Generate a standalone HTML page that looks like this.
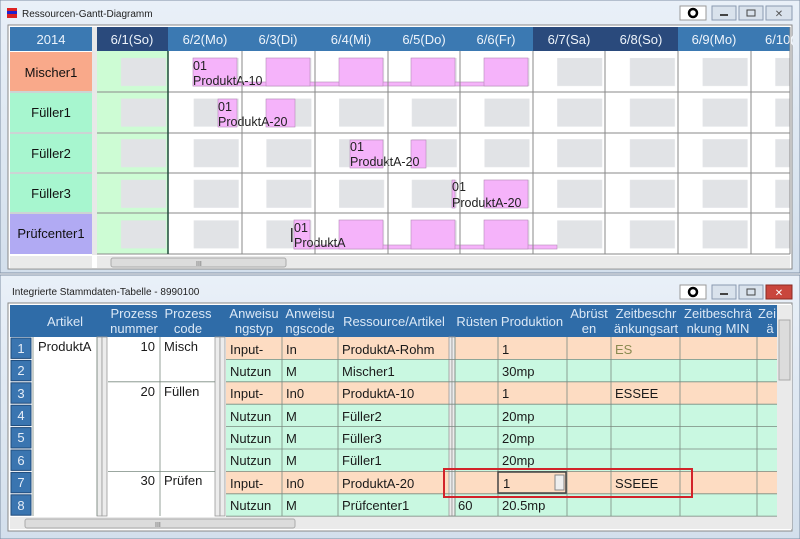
<!DOCTYPE html>
<html><head><meta charset="utf-8"><style>
html,body{margin:0;padding:0;background:#fff;}
svg{display:block;font-family:"Liberation Sans",sans-serif;}
</style></head><body>
<svg width="800" height="539" viewBox="0 0 800 539" xmlns="http://www.w3.org/2000/svg">
<defs>
<linearGradient id="tb" x1="0" y1="0" x2="0" y2="1"><stop offset="0" stop-color="#e9f0f8"/><stop offset="1" stop-color="#d3dfec"/></linearGradient>
<pattern id="gb" x="97" y="51" width="72.7" height="40.6" patternUnits="userSpaceOnUse"><rect x="24" y="7" width="45" height="28" fill="#e1e3e6"/></pattern>
</defs>
<!-- top window -->
<rect x="0" y="0" width="800" height="273" fill="url(#tb)" stroke="#7d8ea3"/>
<rect x="7" y="8" width="10" height="10" fill="#d22"/><rect x="7" y="11" width="10" height="3" fill="#22c"/>
<text x="22" y="17" font-size="10" fill="#222">Ressourcen-Gantt-Diagramm</text>
<rect x="680" y="6" width="26" height="14" fill="#fff" stroke="#999"/><circle cx="693" cy="13" r="4" fill="none" stroke="#000" stroke-width="2.5"/>
<rect x="712" y="6" width="24" height="14" fill="#d9e2ec" stroke="#8a9ab0"/><rect x="720" y="14" width="8" height="2" fill="#444"/>
<rect x="739" y="6" width="24" height="14" fill="#d9e2ec" stroke="#8a9ab0"/><rect x="747" y="10" width="8" height="6" fill="none" stroke="#444"/>
<rect x="766" y="6" width="26" height="14" fill="#d9e2ec" stroke="#8a9ab0"/><text x="779" y="17" font-size="10" text-anchor="middle" fill="#555">✕</text>
<rect x="8" y="25" width="784" height="244" fill="#fff" stroke="#888"/>
<!-- left labels -->
<rect x="10" y="27" width="82" height="24" fill="#3b79b2"/><text x="51" y="44" font-size="13" fill="#eaf2fb" text-anchor="middle">2014</text>
<rect x="10" y="52" width="82" height="39" fill="#f9a98a"/><text x="51" y="77" font-size="13" text-anchor="middle" fill="#111">Mischer1</text>
<rect x="10" y="93" width="82" height="39" fill="#a7f6cf"/><text x="51" y="117" font-size="13" text-anchor="middle" fill="#111">Füller1</text>
<rect x="10" y="134" width="82" height="38" fill="#a7f6cf"/><text x="51" y="158" font-size="13" text-anchor="middle" fill="#111">Füller2</text>
<rect x="10" y="174" width="82" height="38" fill="#a7f6cf"/><text x="51" y="198" font-size="13" text-anchor="middle" fill="#111">Füller3</text>
<rect x="10" y="214" width="82" height="40" fill="#b1aaf3"/><text x="51" y="238" font-size="13" text-anchor="middle" fill="#111">Prüfcenter1</text>
<rect x="92" y="27" width="5" height="228" fill="#e8e8e8"/>
<!-- grid body -->
<rect x="97" y="51" width="71" height="203" fill="#cdfcd4"/>
<rect x="97" y="51" width="693" height="203" fill="url(#gb)"/>
<!-- header -->
<g font-size="13" text-anchor="middle" fill="#eef4fb">
<rect x="97" y="27" width="71" height="24" fill="#2a4a7c"/><text x="132" y="44">6/1(So)</text>
<rect x="168" y="27" width="74" height="24" fill="#3b79b2"/><text x="205" y="44">6/2(Mo)</text>
<rect x="242" y="27" width="73" height="24" fill="#3b79b2"/><text x="278" y="44">6/3(Di)</text>
<rect x="315" y="27" width="73" height="24" fill="#3b79b2"/><text x="351" y="44">6/4(Mi)</text>
<rect x="388" y="27" width="72" height="24" fill="#3b79b2"/><text x="424" y="44">6/5(Do)</text>
<rect x="460" y="27" width="73" height="24" fill="#3b79b2"/><text x="496" y="44">6/6(Fr)</text>
<rect x="533" y="27" width="72" height="24" fill="#2a4a7c"/><text x="569" y="44">6/7(Sa)</text>
<rect x="605" y="27" width="73" height="24" fill="#2a4a7c"/><text x="641" y="44">6/8(So)</text>
<rect x="678" y="27" width="73" height="24" fill="#3b79b2"/><text x="714" y="44">6/9(Mo)</text>
<rect x="751" y="27" width="39" height="24" fill="#3b79b2"/><text x="765" y="44" text-anchor="start">6/10(</text>
</g>
<!-- pink bars -->
<g fill="#f5b3fa" stroke="#b48ab8" stroke-width="0.6">
<rect x="193" y="82" width="335" height="4"/>
<rect x="193" y="58" width="44" height="28"/><rect x="266" y="58" width="44" height="28"/><rect x="339" y="58" width="44" height="28"/><rect x="411" y="58" width="44" height="28"/><rect x="484" y="58" width="44" height="28"/>
<rect x="218" y="99" width="19" height="28"/><rect x="266" y="99" width="29" height="28"/>
<rect x="350" y="140" width="33" height="28"/><rect x="411" y="140" width="15" height="28"/>
<rect x="452" y="180" width="3" height="28"/><rect x="484" y="180" width="44" height="28"/>
<rect x="294" y="245" width="263" height="4"/>
<rect x="294" y="220" width="16" height="29"/><rect x="339" y="220" width="44" height="29"/><rect x="411" y="220" width="44" height="29"/><rect x="484" y="220" width="44" height="29"/>
</g>
<rect x="291" y="228" width="1.5" height="14" fill="#333"/>
<g font-size="12.5" fill="#222">
<text x="193" y="70">01</text><text x="193" y="85">ProduktA-10</text>
<text x="218" y="111">01</text><text x="218" y="126">ProduktA-20</text>
<text x="350" y="151">01</text><text x="350" y="166">ProduktA-20</text>
<text x="452" y="191">01</text><text x="452" y="207">ProduktA-20</text>
<text x="294" y="232">01</text><text x="294" y="247">ProduktA</text>
</g>
<!-- grid lines -->
<g stroke="#8a8a8a" stroke-width="1">
<line x1="97" y1="92" x2="790" y2="92"/><line x1="97" y1="133" x2="790" y2="133"/><line x1="97" y1="173" x2="790" y2="173"/><line x1="97" y1="213" x2="790" y2="213"/><line x1="97" y1="254" x2="790" y2="254"/>
<line x1="242" y1="51" x2="242" y2="254"/><line x1="315" y1="51" x2="315" y2="254"/><line x1="388" y1="51" x2="388" y2="254"/><line x1="460" y1="51" x2="460" y2="254"/><line x1="533" y1="51" x2="533" y2="254"/><line x1="605" y1="51" x2="605" y2="254"/><line x1="678" y1="51" x2="678" y2="254"/><line x1="751" y1="51" x2="751" y2="254"/><line x1="790" y1="27" x2="790" y2="254"/>
</g>
<line x1="168" y1="51" x2="168" y2="254" stroke="#1f4a3a" stroke-width="1.5"/>
<g stroke="#9aa" stroke-width="1"><line x1="10" y1="92" x2="92" y2="92"/><line x1="10" y1="133" x2="92" y2="133"/><line x1="10" y1="173" x2="92" y2="173"/><line x1="10" y1="213" x2="92" y2="213"/></g>
<!-- scrollbars -->
<rect x="10" y="256" width="82" height="12" fill="#eaeaea"/><rect x="97" y="256" width="693" height="12" fill="#eaeaea"/>
<rect x="111" y="258" width="175" height="9" rx="2" fill="#dcdcdc" stroke="#aaa"/><text x="196" y="266" font-size="7" fill="#666">III</text>
<!-- bottom window -->
<rect x="0" y="275" width="800" height="264" fill="url(#tb)" stroke="#7d8ea3"/>
<text x="12" y="295" font-size="10" fill="#222">Integrierte Stammdaten-Tabelle - 8990100</text>
<rect x="680" y="285" width="26" height="14" fill="#fff" stroke="#999"/><circle cx="693" cy="292" r="4" fill="none" stroke="#000" stroke-width="2.5"/>
<rect x="712" y="285" width="24" height="14" fill="#d9e2ec" stroke="#8a9ab0"/><rect x="720" y="293" width="8" height="2" fill="#444"/>
<rect x="739" y="285" width="24" height="14" fill="#d9e2ec" stroke="#8a9ab0"/><rect x="747" y="289" width="8" height="6" fill="none" stroke="#444"/>
<rect x="766" y="285" width="26" height="14" fill="#c9463d" stroke="#8a2a22"/><text x="779" y="296" font-size="10" text-anchor="middle" fill="#fff">✕</text>
<rect x="8" y="303" width="784" height="228" fill="#fff" stroke="#888"/>
<!-- header -->
<rect x="10" y="305" width="767" height="32" fill="#2f6ca8"/>
<g font-size="13" fill="#dbe8f6" text-anchor="middle">
<text x="65" y="326">Artikel</text>
<text x="134" y="318">Prozess</text><text x="134" y="333">nummer</text>
<text x="188" y="318">Prozess</text><text x="188" y="333">code</text>
<text x="254" y="318">Anweisu</text><text x="254" y="333">ngstyp</text>
<text x="310" y="318">Anweisu</text><text x="310" y="333">ngscode</text>
<text x="394" y="326">Ressource/Artikel</text>
<text x="477" y="326">Rüsten</text>
<text x="532" y="326">Produktion</text>
<text x="589" y="318">Abrüst</text><text x="589" y="333">en</text>
<text x="646" y="318">Zeitbeschr</text><text x="646" y="333">änkungsart</text>
<text x="718" y="318">Zeitbeschrä</text><text x="718" y="333">nkung MIN</text>
<text x="767" y="318">Zei</text><text x="770" y="333">ä</text>
</g>
<!-- rows backgrounds -->
<g>
<rect x="226" y="337" width="551" height="22.4" fill="#fddcc2"/>
<rect x="226" y="359.4" width="551" height="22.4" fill="#c9f8e1"/>
<rect x="226" y="381.8" width="551" height="22.4" fill="#fddcc2"/>
<rect x="226" y="404.2" width="551" height="67.2" fill="#c9f8e1"/>
<rect x="226" y="471.4" width="551" height="22.4" fill="#fddcc2"/>
<rect x="226" y="493.8" width="551" height="22.4" fill="#c9f8e1"/>
</g>
<!-- row numbers -->
<g fill="#3a75b0" stroke="#1e4a7a">
<rect x="11" y="338" width="20" height="20.4"/><rect x="11" y="360.4" width="20" height="20.4"/><rect x="11" y="382.8" width="20" height="20.4"/><rect x="11" y="405.2" width="20" height="20.4"/><rect x="11" y="427.6" width="20" height="20.4"/><rect x="11" y="450" width="20" height="20.4"/><rect x="11" y="472.4" width="20" height="20.4"/><rect x="11" y="494.8" width="20" height="20.4"/>
</g>
<g font-size="13" fill="#e6eef8" text-anchor="middle">
<text x="21" y="353">1</text><text x="21" y="375">2</text><text x="21" y="398">3</text><text x="21" y="420">4</text><text x="21" y="442">5</text><text x="21" y="465">6</text><text x="21" y="487">7</text><text x="21" y="510">8</text>
</g>
<!-- separator cols -->
<g fill="#ececec" stroke="#999" stroke-width="0.8">
<rect x="97" y="337" width="5" height="179"/><rect x="102" y="337" width="5" height="179"/>
<rect x="215" y="337" width="5" height="179"/><rect x="220" y="337" width="5" height="179"/>
<rect x="449" y="337" width="3" height="179"/><rect x="452" y="337" width="3" height="179"/>
</g>
<!-- grid lines -->
<g stroke="#7a8a80" stroke-width="0.8">
<line x1="282" y1="337" x2="282" y2="516"/><line x1="338" y1="337" x2="338" y2="516"/><line x1="455" y1="337" x2="455" y2="516"/><line x1="498" y1="337" x2="498" y2="516"/><line x1="567" y1="337" x2="567" y2="516"/><line x1="611" y1="337" x2="611" y2="516"/><line x1="680" y1="337" x2="680" y2="516"/><line x1="757" y1="337" x2="757" y2="516"/>
<line x1="160" y1="337" x2="160" y2="516"/><line x1="33" y1="337" x2="33" y2="516"/><line x1="97" y1="337" x2="97" y2="516"/>
<line x1="226" y1="359.4" x2="777" y2="359.4"/><line x1="226" y1="381.8" x2="777" y2="381.8"/><line x1="226" y1="404.2" x2="777" y2="404.2"/><line x1="226" y1="426.6" x2="777" y2="426.6"/><line x1="226" y1="449" x2="777" y2="449"/><line x1="226" y1="471.4" x2="777" y2="471.4"/><line x1="226" y1="493.8" x2="777" y2="493.8"/><line x1="226" y1="516.2" x2="777" y2="516.2"/>
<line x1="108" y1="381.8" x2="215" y2="381.8"/><line x1="108" y1="471.4" x2="215" y2="471.4"/>
</g>
<!-- cell text -->
<g font-size="13" fill="#1a1a1a">
<text x="38" y="351">ProduktA</text>
<text x="155" y="351" text-anchor="end">10</text><text x="164" y="351">Misch</text>
<text x="155" y="396" text-anchor="end">20</text><text x="164" y="396">Füllen</text>
<text x="155" y="485" text-anchor="end">30</text><text x="164" y="485">Prüfen</text>
<text x="230" y="354">Input-</text><text x="286" y="354">In</text><text x="342" y="354">ProduktA-Rohm</text><text x="502" y="354">1</text><text x="615" y="354" fill="#8a8a50">ES</text>
<text x="230" y="376">Nutzun</text><text x="286" y="376">M</text><text x="342" y="376">Mischer1</text><text x="502" y="376">30mp</text>
<text x="230" y="398">Input-</text><text x="286" y="398">In0</text><text x="342" y="398">ProduktA-10</text><text x="502" y="398">1</text><text x="615" y="398">ESSEE</text>
<text x="230" y="421">Nutzun</text><text x="286" y="421">M</text><text x="342" y="421">Füller2</text><text x="502" y="421">20mp</text>
<text x="230" y="443">Nutzun</text><text x="286" y="443">M</text><text x="342" y="443">Füller3</text><text x="502" y="443">20mp</text>
<text x="230" y="465">Nutzun</text><text x="286" y="465">M</text><text x="342" y="465">Füller1</text><text x="502" y="465">20mp</text>
<text x="230" y="488">Input-</text><text x="286" y="488">In0</text><text x="342" y="488">ProduktA-20</text><text x="615" y="488">SSEEE</text>
<text x="230" y="510">Nutzun</text><text x="286" y="510">M</text><text x="342" y="510">Prüfcenter1</text><text x="458" y="510">60</text><text x="502" y="510">20.5mp</text>
</g>
<rect x="498" y="472" width="68" height="21" fill="#fddcc2" stroke="#444" stroke-width="1.5"/>
<text x="503" y="488" font-size="13" fill="#1a1a1a">1</text>
<rect x="555" y="475" width="9" height="15" fill="#eee" stroke="#888"/>
<rect x="444" y="469" width="248" height="28" fill="none" stroke="#d2232a" stroke-width="2"/>
<!-- scrollbars -->
<rect x="777" y="305" width="15" height="212" fill="#eaeaea"/><rect x="779" y="320" width="11" height="60" fill="#dcdcdc" stroke="#aaa"/>
<rect x="10" y="517" width="782" height="12" fill="#eaeaea"/>
<rect x="25" y="519" width="270" height="9" rx="2" fill="#dcdcdc" stroke="#aaa"/><text x="155" y="527" font-size="7" fill="#666">III</text>
</svg>
</body></html>
